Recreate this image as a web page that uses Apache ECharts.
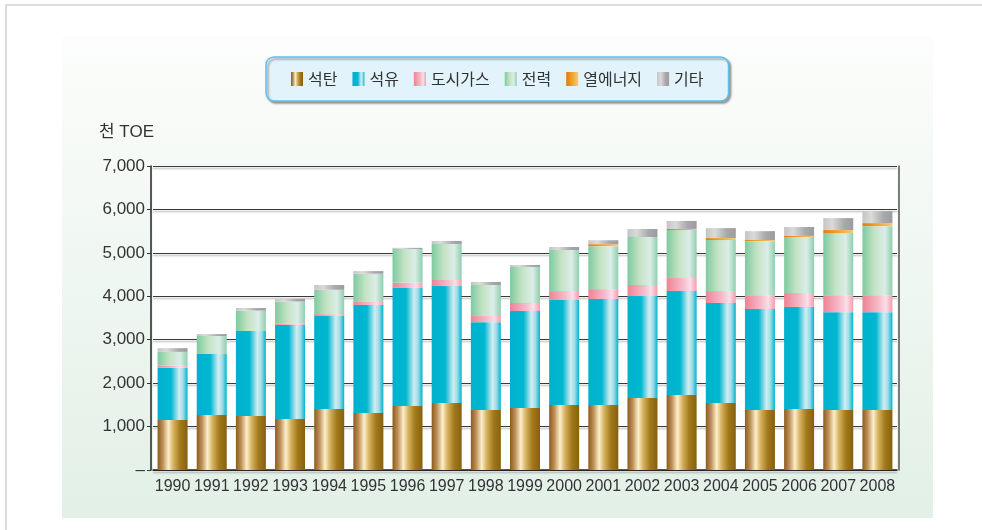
<!DOCTYPE html>
<html>
<head>
<meta charset="utf-8">
<script src="https://cdn.jsdelivr.net/npm/echarts@6/dist/echarts.min.js"></script>
<style>
html,body{margin:0;padding:0;background:#fff;}
#c{width:982px;height:530px;}
</style>
</head>
<body>
<div id="c"></div>
<script>
const years = ['1990','1991','1992','1993','1994','1995','1996','1997','1998','1999','2000','2001','2002','2003','2004','2005','2006','2007','2008'];
const coal  = [1150,1265,1245,1175,1405,1310,1475,1545,1380,1430,1495,1495,1660,1725,1545,1380,1405,1380,1380];
const oil   = [1205,1405,1955,2165,2140,2490,2725,2690,2025,2230,2420,2440,2345,2395,2300,2325,2350,2255,2255];
const gas   = [45,0,0,25,45,70,110,140,140,185,205,230,255,300,275,320,320,390,390];
const elec  = [320,415,470,515,560,650,780,830,715,830,945,990,1105,1105,1175,1245,1290,1430,1590];
const heat  = [0,0,0,0,0,0,0,0,0,0,0,45,0,25,45,25,25,70,70];
const other = [85,45,60,60,110,60,25,70,70,45,70,90,185,185,230,205,205,275,275];
const names = ['석탄','석유','도시가스','전력','열에너지','기타'];
const yTicks = [0,1000,2000,3000,4000,5000,6000,7000];

const latin = '"Liberation Sans", Arial, sans-serif';

function grad(stops){
  return new echarts.graphic.LinearGradient(0,0,1,0, stops.map(s=>({offset:s[0],color:s[1]})));
}
const fills = [
  grad([[0,'#8b5b1d'],[0.18,'#c0925a'],[0.36,'#fcefcc'],[0.52,'#d8b462'],[0.75,'#a27a1a'],[1,'#86600f']]),
  grad([[0,'#00b1cd'],[0.45,'#00b7d1'],[0.72,'#d2edf3'],[0.85,'#9fdce6'],[1,'#00b3cf']]),
  grad([[0,'#ee8394'],[0.55,'#f6bccb'],[0.78,'#fadfe9'],[1,'#f29cad']]),
  grad([[0,'#7ecaa0'],[0.4,'#c3e3c3'],[0.75,'#dcede8'],[1,'#8ecfae']]),
  grad([[0,'#e37a10'],[0.5,'#f0a42c'],[1,'#f6ca7e']]),
  grad([[0,'#c4c4c4'],[0.3,'#dadada'],[0.7,'#a9a9ad'],[1,'#9b9ba0']])
];
const dataSets = [coal, oil, gas, elec, heat, other];

const chart = echarts.init(document.getElementById('c'), null, {renderer:'canvas'});
chart.setOption({
  backgroundColor:'#ffffff',
  animation:false,
  graphic:[
    {type:'rect', z:-100, shape:{x:62,y:36,width:871,height:482},
     style:{fill:new echarts.graphic.LinearGradient(0,0,0,1,[{offset:0,color:'#fcfdfc'},{offset:1,color:'#e2f0e6'}])}},
    {type:'line', z:-100, shape:{x1:5,y1:5,x2:982,y2:5}, style:{stroke:'#dcdcdc',lineWidth:2}},
    {type:'line', z:-100, shape:{x1:6,y1:5,x2:6,y2:530}, style:{stroke:'#dcdcdc',lineWidth:2}}
  ],
  title:{
    text:'천 TOE', left:94, top:119,
    textStyle:{fontSize:17,fontWeight:'normal',color:'#333',fontFamily:'"Liberation Sans", "Noto Sans CJK KR", sans-serif'}
  },
  legend:{
    data:names, left:266, top:57, icon:'rect',
    padding:[14,25,14,25],
    itemWidth:12, itemHeight:14, itemGap:15,
    backgroundColor:'#e2f3fb', borderColor:'#5cc0ea', borderWidth:1.5, borderRadius:8,
    shadowColor:'rgba(0,0,0,0.35)', shadowBlur:2, shadowOffsetX:2, shadowOffsetY:2,
    textStyle:{fontSize:16,color:'#333',fontFamily:'"Noto Sans CJK KR", sans-serif'}
  },
  grid:{left:153,right:85,top:166,bottom:60,show:true,backgroundColor:'#ffffff',borderWidth:0},
  xAxis:{
    type:'category', data:years,
    axisLine:{lineStyle:{color:'#222',width:1.5}},
    axisTick:{inside:true,length:5,lineStyle:{color:'#444'}},
    axisLabel:{interval:0,fontSize:16,color:'#333',margin:9,fontFamily:latin}
  },
  yAxis:[{
    type:'value', min:yTicks[0], max:yTicks[yTicks.length-1], interval:yTicks[1]-yTicks[0],
    offset:2,
    axisLine:{show:true,lineStyle:{color:'#222',width:1.5}},
    axisTick:{show:true,length:4,lineStyle:{color:'#333'}},
    axisLabel:{fontSize:17,color:'#333',margin:6,fontFamily:latin,
      formatter:v=> v===0 ? '–' : v.toLocaleString('en-US')},
    splitLine:{lineStyle:{color:'#3a3a3a',width:1.2,shadowColor:'rgba(0,0,0,0.35)',shadowBlur:2,shadowOffsetY:2}}
  },{
    type:'value', position:'right', offset:2, min:yTicks[0], max:yTicks[yTicks.length-1], interval:yTicks[1]-yTicks[0],
    axisLine:{show:true,lineStyle:{color:'#555',width:1.5}},
    axisTick:{show:false}, axisLabel:{show:false}, splitLine:{show:false}
  }],
  series: names.map((n,i)=>({
    name:n, type:'bar', stack:'total', barWidth:30,
    itemStyle:{color:fills[i]},
    data:dataSets[i]
  }))
});
</script>
</body>
</html>
